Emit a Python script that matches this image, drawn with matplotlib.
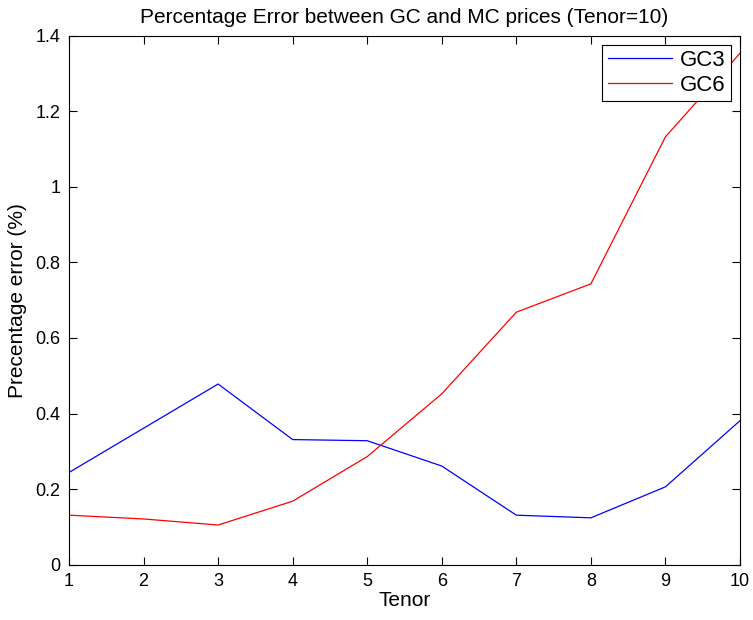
import matplotlib
matplotlib.use("Agg")
from matplotlib import pyplot as plt

plt.rcParams['font.family'] = ['Liberation Sans', 'DejaVu Sans']

tenor = [1, 2, 3, 4, 5, 6, 7, 8, 9, 10]
gc3 = [0.244, 0.361, 0.478, 0.331, 0.328, 0.261, 0.131, 0.124, 0.206, 0.381]
gc6 = [0.131, 0.121, 0.105, 0.168, 0.286, 0.452, 0.668, 0.743, 1.132, 1.353]
yticks = [0, 0.2, 0.4, 0.6, 0.8, 1, 1.2, 1.4]
ytick_labels = ['0', '0.2', '0.4', '0.6', '0.8', '1', '1.2', '1.4']

fig = plt.figure(figsize=(7.53, 6.2), dpi=100)
ax = fig.add_axes([69/753, 1 - 564.7/620, (740-69)/753, (564.7-35.5)/620])

ax.plot(tenor, gc3, color='blue', lw=0.9, label='GC3')
ax.plot(tenor, gc6, color='red', lw=0.9, label='GC6')

ax.set_xlim(1, 10)
ax.set_ylim(0, 1.4)
ax.set_xticks(tenor)
ax.set_yticks(yticks)
ax.set_yticklabels(ytick_labels)
ax.tick_params(direction='in', top=True, right=True, labelsize=13, length=6, pad=6)
for s in ax.spines.values():
    s.set_linewidth(0.8)

ax.set_xlabel('Tenor', fontsize=15, labelpad=1)
ax.set_ylabel('Precentage error (%)', fontsize=15, labelpad=6)
ax.set_title('Percentage Error between GC and MC prices (Tenor=10)', fontsize=15, pad=9)

leg = ax.legend(loc='upper right', fontsize=16, fancybox=False, framealpha=1,
                edgecolor='black', bbox_to_anchor=(731/753, 1 - 44.7/620),
                bbox_transform=fig.transFigure, borderaxespad=0, handlelength=2.9,
                handletextpad=0.35, borderpad=0.25, labelspacing=0.15)
leg.get_frame().set_linewidth(0.8)

fig.savefig('out.png', dpi=100)
